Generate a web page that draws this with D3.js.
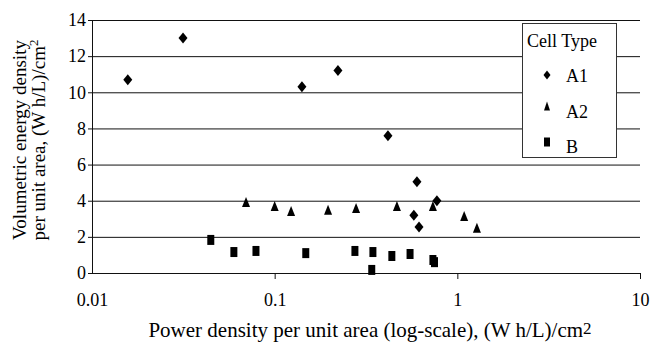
<!DOCTYPE html>
<html><head><meta charset="utf-8">
<script src="https://cdn.jsdelivr.net/npm/d3@7"></script>
<style>body{margin:0;background:#fff}svg{display:block}</style>
</head><body>
<script>
// Data
const xTicks = [0.01, 0.1, 1, 10];
const xTickLabels = ["0.01", "0.1", "1", "10"];
const yTicks = [0, 2, 4, 6, 8, 10, 12, 14];
const seriesNames = ["A1", "A2", "B"];
const a1X = [0.0157, 0.0315, 0.141, 0.222, 0.417, 0.601, 0.578, 0.617, 0.773];
const a1Y = [10.7, 13.0, 10.3, 11.2, 7.6, 5.05, 3.2, 2.55, 4.0];
const a2X = [0.0697, 0.1, 0.123, 0.196, 0.279, 0.467, 0.735, 1.09, 1.28];
const a2Y = [3.93, 3.71, 3.43, 3.5, 3.6, 3.71, 3.71, 3.15, 2.5];
const bX = [0.0447, 0.0598, 0.079, 0.148, 0.275, 0.345, 0.340, 0.438, 0.551, 0.735, 0.75];
const bY = [1.83, 1.16, 1.22, 1.1, 1.22, 1.16, 0.17, 0.94, 1.05, 0.72, 0.6];

const FONT = "'Liberation Serif', 'Times New Roman', serif";
const W = 650, H = 342;
const svg = d3.select("body").append("svg").attr("width", W).attr("height", H)
  .style("font-family", FONT);
const x = d3.scaleLog().domain([0.01, 10]).range([92, 640]);
const y = d3.scaleLinear().domain([0, 14]).range([273, 20]);
const ink = "#111";

// horizontal gridlines + left ticks
const yAxis = d3.axisLeft(y).tickValues(yTicks).tickSize(-(640 - 92)).tickSizeOuter(0).tickFormat(d3.format("d"));
const gy = svg.append("g").attr("transform", "translate(92,0)").call(yAxis);
gy.attr("font-family", null).attr("font-size", null);
gy.select(".domain").attr("stroke", ink);
gy.selectAll(".tick line").attr("stroke", ink).attr("x1", -4);
gy.selectAll(".tick text").style("font-family", FONT).style("font-size", "18px").attr("x", -6).attr("fill", "#000");

// vertical gridlines + bottom ticks
const xAxis = d3.axisBottom(x).tickValues(xTicks).tickFormat((d, i) => xTickLabels[i]).tickSize(-(273 - 20)).tickSizeOuter(0);
const gx = svg.append("g").attr("transform", "translate(0,273)").call(xAxis);
gx.attr("font-family", null).attr("font-size", null);
gx.select(".domain").attr("stroke", ink);
gx.selectAll(".tick line").attr("stroke", ink).attr("y2", (d) => d === 0.01 ? 0 : 6);
gx.selectAll(".tick text").style("font-family", FONT).style("font-size", "18px").attr("y", 33).attr("dy", null).attr("fill", "#000");

// marker shapes
function diamond(w, h) { return `M0,${-h/2}L${w/2},0L0,${h/2}L${-w/2},0Z`; }
function tri(w, h) { return `M0,${-h/2}L${w/2},${h/2}L${-w/2},${h/2}Z`; }
function rect(w, h) { return `M${-w/2},${-h/2}h${w}v${h}h${-w}Z`; }

const marks = svg.append("g");
marks.selectAll(".a1").data(a1X.map((v, i) => [v, a1Y[i]])).join("path")
  .attr("d", diamond(9, 11)).attr("fill", "#000")
  .attr("transform", d => `translate(${x(d[0])},${y(d[1])})`);
marks.selectAll(".a2").data(a2X.map((v, i) => [v, a2Y[i]])).join("path")
  .attr("d", tri(8, 10)).attr("fill", "#000")
  .attr("transform", d => `translate(${x(d[0])},${y(d[1])})`);
marks.selectAll(".b").data(bX.map((v, i) => [v, bY[i]])).join("path")
  .attr("d", rect(7, 10)).attr("fill", "#000")
  .attr("transform", d => `translate(${x(d[0])},${y(d[1])})`);

// legend
const lg = svg.append("g");
lg.append("rect").attr("x", 522.5).attr("y", 23.5).attr("width", 94).attr("height", 134)
  .attr("fill", "#fff").attr("stroke", "#333").attr("stroke-width", 1);
lg.append("text").attr("x", 527).attr("y", 47).style("font-size", "18px").text("Cell Type");
const legPaths = [diamond(7, 9), tri(6, 9), rect(6, 9)];
const legY = [75, 106, 142];
const legTextY = [82, 118, 153];
seriesNames.forEach((n, i) => {
  lg.append("path").attr("d", legPaths[i]).attr("fill", "#000").attr("transform", `translate(547,${legY[i]})`);
  lg.append("text").attr("x", 566).attr("y", legTextY[i]).style("font-size", "18px").text(n);
});

// axis titles
const xt = svg.append("text").attr("x", 370).attr("y", 337).attr("text-anchor", "middle").style("font-size", "21px");
xt.append("tspan").text("Power density per unit area (log-scale), (W h/L)/cm");
xt.append("tspan").style("font-size", "17px").attr("dy", -3).text("2");

const yt = svg.append("g").attr("transform", "translate(0,140) rotate(-90)");
yt.append("text").attr("x", 0).attr("y", 26).attr("text-anchor", "middle").style("font-size", "19px").text("Volumetric energy density");
const y2 = yt.append("text").attr("x", 0).attr("y", 45).attr("text-anchor", "middle").style("font-size", "19px");
y2.append("tspan").text("per unit area, (W h/L)/cm");
y2.append("tspan").style("font-size", "13px").attr("dy", -7).text("2");
</script>
</body></html>
